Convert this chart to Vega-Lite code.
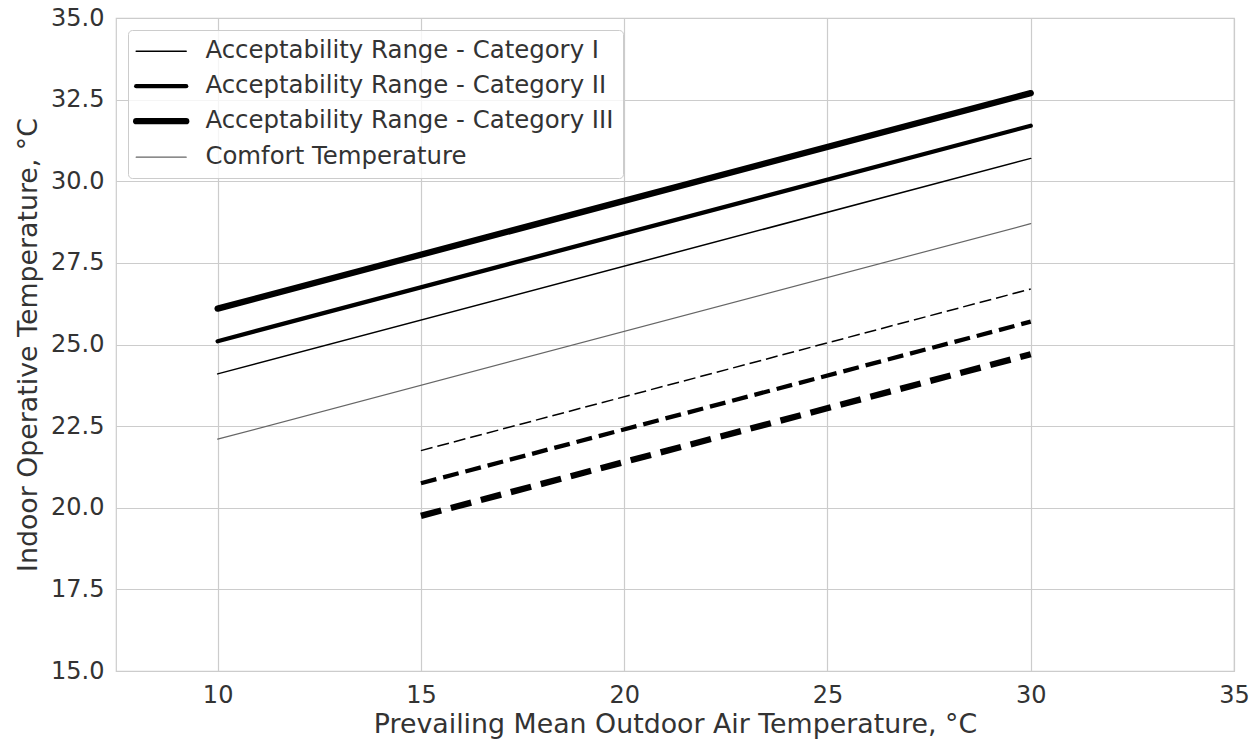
{
  "$schema": "https://vega.github.io/schema/vega-lite/v6.json",
  "autosize": {"type": "none"},
  "padding": {"left": 116, "top": 18, "right": 18, "bottom": 70},
  "width": 1118,
  "height": 653,
  "background": "white",
  "config": {
    "font": "DejaVu Sans",
    "view": {"stroke": "#cccccc", "strokeWidth": 1.2},
    "axis": {
      "domain": false,
      "ticks": false,
      "gridColor": "#cccccc",
      "gridWidth": 1.2,
      "labelFont": "DejaVu Sans",
      "labelFontSize": 24,
      "labelColor": "#333333",
      "labelFlush": false,
      "labelOverlap": false,
      "titleFont": "DejaVu Sans",
      "titleFontSize": 26.8,
      "titleFontWeight": "normal",
      "titleColor": "#333333",
      "labelPadding": 12
    },
    "legend": {
      "labelFont": "DejaVu Sans",
      "labelFontSize": 24.4,
      "labelColor": "#333333"
    }
  },
  "data": {
    "values": [
      {"category": "Acceptability Range - Category I", "bound": "upper", "x": 10, "y": 24.1},
      {"category": "Acceptability Range - Category I", "bound": "upper", "x": 30, "y": 30.7},
      {"category": "Acceptability Range - Category I", "bound": "lower", "x": 15, "y": 21.75},
      {"category": "Acceptability Range - Category I", "bound": "lower", "x": 30, "y": 26.7},
      {"category": "Acceptability Range - Category II", "bound": "upper", "x": 10, "y": 25.1},
      {"category": "Acceptability Range - Category II", "bound": "upper", "x": 30, "y": 31.7},
      {"category": "Acceptability Range - Category II", "bound": "lower", "x": 15, "y": 20.75},
      {"category": "Acceptability Range - Category II", "bound": "lower", "x": 30, "y": 25.7},
      {"category": "Acceptability Range - Category III", "bound": "upper", "x": 10, "y": 26.1},
      {"category": "Acceptability Range - Category III", "bound": "upper", "x": 30, "y": 32.7},
      {"category": "Acceptability Range - Category III", "bound": "lower", "x": 15, "y": 19.75},
      {"category": "Acceptability Range - Category III", "bound": "lower", "x": 30, "y": 24.7},
      {"category": "Comfort Temperature", "bound": "upper", "x": 10, "y": 22.1},
      {"category": "Comfort Temperature", "bound": "upper", "x": 30, "y": 28.7}
    ]
  },
  "encoding": {
    "x": {
      "field": "x", "type": "quantitative",
      "scale": {"domain": [7.5, 35], "nice": false, "zero": false},
      "axis": {"values": [10, 15, 20, 25, 30, 35], "title": "Prevailing Mean Outdoor Air Temperature, °C", "titlePadding": 4}
    },
    "y": {
      "field": "y", "type": "quantitative",
      "scale": {"domain": [15, 35], "nice": false, "zero": false},
      "axis": {"values": [15, 17.5, 20, 22.5, 25, 27.5, 30, 32.5, 35], "format": ".1f", "title": "Indoor Operative Temperature, °C", "titlePadding": 8}
    },
    "color": {
      "field": "category", "type": "nominal",
      "scale": {
        "domain": ["Acceptability Range - Category I", "Acceptability Range - Category II", "Acceptability Range - Category III", "Comfort Temperature"],
        "range": ["#000000", "#000000", "#000000", "#666666"]
      },
      "legend": {
        "title": null,
        "orient": "top-left",
        "offset": 12,
        "padding": 9,
        "symbolType": "stroke",
        "symbolSize": 2500,
        "symbolOffset": 12,
        "labelOffset": 32,
        "labelLimit": 0,
        "rowPadding": 10,
        "strokeColor": "#cccccc",
        "fillColor": "rgba(255,255,255,0.8)",
        "cornerRadius": 4,
        "encode": {
          "symbols": {
            "update": {
              "strokeWidth": {"signal": "datum.value == 'Acceptability Range - Category I' ? 1.5 : datum.value == 'Acceptability Range - Category II' ? 4.3 : datum.value == 'Acceptability Range - Category III' ? 6.3 : 1.2"},
              "strokeCap": {"value": "round"}
            }
          }
        }
      }
    }
  },
  "layer": [
    {
      "transform": [{"filter": "datum.category == 'Acceptability Range - Category I' && datum.bound == 'upper'"}],
      "mark": {"type": "line", "strokeWidth": 1.5, "strokeCap": "round"}
    },
    {
      "transform": [{"filter": "datum.category == 'Acceptability Range - Category II' && datum.bound == 'upper'"}],
      "mark": {"type": "line", "strokeWidth": 4.3, "strokeCap": "round"}
    },
    {
      "transform": [{"filter": "datum.category == 'Acceptability Range - Category III' && datum.bound == 'upper'"}],
      "mark": {"type": "line", "strokeWidth": 6.3, "strokeCap": "round"}
    },
    {
      "transform": [{"filter": "datum.category == 'Comfort Temperature'"}],
      "mark": {"type": "line", "strokeWidth": 1.2, "strokeCap": "round"}
    },
    {
      "transform": [{"filter": "datum.category == 'Acceptability Range - Category I' && datum.bound == 'lower'"}],
      "mark": {"type": "line", "strokeWidth": 1.5, "strokeCap": "butt", "strokeDash": [12, 5]}
    },
    {
      "transform": [{"filter": "datum.category == 'Acceptability Range - Category II' && datum.bound == 'lower'"}],
      "mark": {"type": "line", "strokeWidth": 4.3, "strokeCap": "butt", "strokeDash": [16, 7]}
    },
    {
      "transform": [{"filter": "datum.category == 'Acceptability Range - Category III' && datum.bound == 'lower'"}],
      "mark": {"type": "line", "strokeWidth": 6.3, "strokeCap": "butt", "strokeDash": [21, 10]}
    }
  ]
}
